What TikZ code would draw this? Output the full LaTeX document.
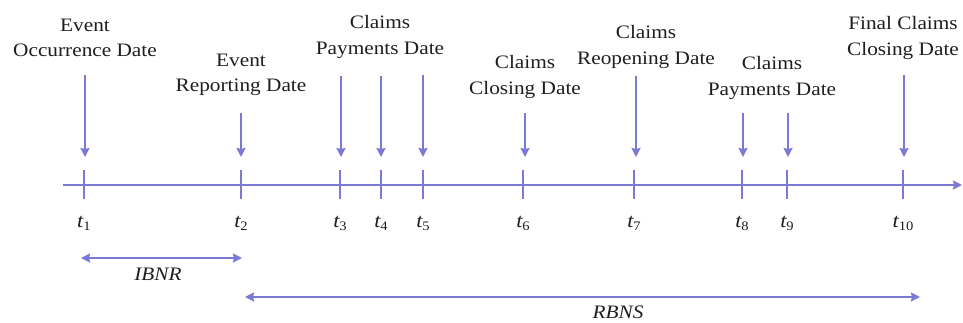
\documentclass[tikz,border=0pt]{standalone}
\usepackage{fontspec}
\setmainfont{Liberation Serif}[FakeStretch=1.12]
\usetikzlibrary{arrows.meta}
\definecolor{tl}{RGB}{122,122,212}
\definecolor{ink}{RGB}{30,30,30}
\newcommand{\tsub}[1]{{\itshape t}\raisebox{-3.5pt}{\fontsize{13}{13}\selectfont #1}}
\begin{document}
\begin{tikzpicture}[x=1pt,y=-1pt,
  line/.style={draw=tl, line width=1.9pt},
  tipend/.style={-{Stealth[length=9pt,width=9pt,inset=1pt]}},
  tipboth/.style={{Stealth[length=9pt,width=9pt,inset=1pt]}-{Stealth[length=9pt,width=9pt,inset=1pt]}},
  lbl/.style={align=center, anchor=north, inner sep=0pt, text=ink, font=\fontsize{19}{25.5}\selectfont},
  tlab/.style={anchor=base, inner sep=0pt, text=ink, font=\fontsize{20}{22}\selectfont},
  span/.style={anchor=base, inner sep=0pt, text=ink, font=\fontsize{19}{20}\selectfont\itshape}]
\useasboundingbox (0,0) rectangle (963,322);

% axis
\coordinate (a0) at (63,185);
\coordinate (a1) at (962,185);
\draw[line, tipend] (a0) -- (a1);

% tick positions
\foreach \n/\x in {1/84, 2/241, 3/340, 4/381, 5/423, 6/523, 7/634, 8/742, 9/787, 10/903}{
  \coordinate (t\n) at (\x,185);
  \draw[line] (\x,170) -- (\x,199);
  \node[tlab] (l\n) at (\x,227) {\tsub{\n}};
}

% labels
\node[lbl] (occ) at (85,18.5) {Event\\Occurrence Date};
\node[lbl] (rep) at (241,53.5) {Event\\Reporting Date};
\node[lbl] (pay1) at (380,15.5) {Claims\\Payments Date};
\node[lbl] (clo) at (525,55.5) {Claims\\Closing Date};
\node[lbl] (reo) at (646,25.5) {Claims\\Reopening Date};
\node[lbl] (pay2) at (772,56.5) {Claims\\Payments Date};
\node[lbl] (fin) at (903,16.5) {Final Claims\\Closing Date};

% down arrows
\foreach \n/\x/\y in {1/85/75, 2/241/113, 3/341/76, 4/381/76, 5/423/75, 6/525/113, 7/636/76, 8/743/113, 9/788/113, 10/904/75}{
  \coordinate (s\n) at (\x,\y);
  \coordinate (e\n) at (\x,157);
  \draw[line, tipend] (s\n) -- (e\n);
}

% IBNR
\coordinate (i1) at (81,258);
\coordinate (i2) at (242,258);
\draw[line, tipboth] (i1) -- (i2);
\node[span] (ibnr) at (158,280) {IBNR};

% RBNS
\coordinate (r1) at (245,297);
\coordinate (r2) at (920,297);
\draw[line, tipboth] (r1) -- (r2);
\node[span] (rbns) at (618,318) {RBNS};
\end{tikzpicture}
\end{document}
